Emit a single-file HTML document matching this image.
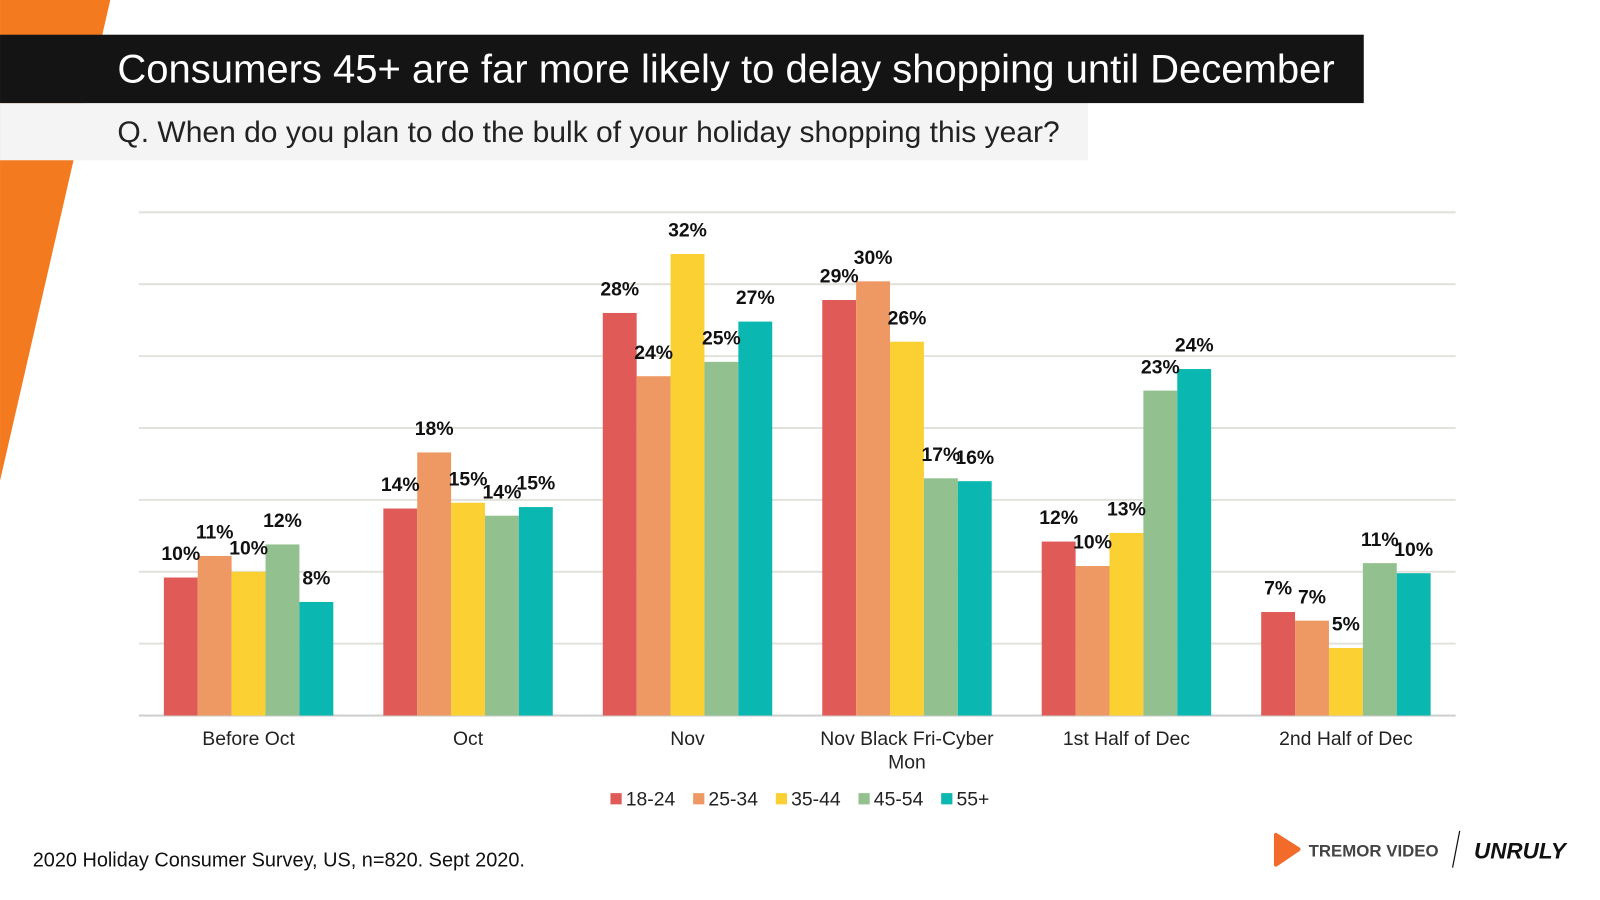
<!DOCTYPE html>
<html><head><meta charset="utf-8"><style>
body{margin:0;width:1600px;height:900px;background:#fff;overflow:hidden;font-family:"Liberation Sans",Arial,sans-serif;position:relative}
.abs{position:absolute}
</style></head><body>
<svg class="abs" style="left:0;top:0" width="1600" height="900" viewBox="0 0 1567.4 881.7">
<polygon points="0,0 108,0 0,471" fill="#F47A20"/>
<rect x="0" y="101" width="1066" height="56" fill="#F4F4F4"/>
<rect x="0" y="34" width="1336" height="67" fill="#141414"/>
<text x="115" y="81" fill="#fff" font-size="39.2">Consumers 45+ are far more likely to delay shopping until December</text>
<text x="115" y="139" fill="#222" font-size="29.4">Q. When do you plan to do the bulk of your holiday shopping this year?</text>
<g id="grid"></g><g id="bars"></g><g id="labels"></g>
<g id="legend"></g>
<text x="32" y="849" font-size="19.5" fill="#111">2020 Holiday Consumer Survey, US, n=820. Sept 2020.</text>
<g>
<polygon points="1250,818 1272,832 1250,847" fill="#F26B2A" stroke="#F26B2A" stroke-width="4" stroke-linejoin="round"/>
<text x="1282" y="839" font-size="16.5" font-weight="bold" fill="#444">TREMOR VIDEO</text>
</g>
<line x1="1430" y1="814" x2="1423" y2="850" stroke="#111" stroke-width="1.2"/>
<text x="1444" y="841" font-size="22" font-weight="bold" font-style="italic" fill="#111">UNRULY</text>
</svg>
<script>
const categories=["Before Oct","Oct","Nov","Nov Black Fri-Cyber|Mon","1st Half of Dec","2nd Half of Dec"];
const seriesNames=["18-24","25-34","35-44","45-54","55+"];
const s1824=[9.6,14.4,28,28.9,12.1,7.2];
const s2534=[11.1,18.3,23.6,30.2,10.4,6.6];
const s3544=[10,14.8,32.1,26,12.7,4.7];
const s4554=[11.9,13.9,24.6,16.5,22.6,10.6];
const s55=[7.9,14.5,27.4,16.3,24.1,9.9];
const gridTicks=[0,5,10,15,20,25,30,35];
const colors=["#E05B57","#EE9963","#FBD033","#92C08F","#0BB8B1"];
const NS="http://www.w3.org/2000/svg";
const x0=136,x1=1426,yBase=701,yTop=208,maxV=35;
const y=v=>yBase-(yBase-yTop)*v/maxV;
const bw=(x1-x0)/categories.length, barW=33.2;
function mk(tag,attrs,parent){const e=document.createElementNS(NS,tag);for(const k in attrs)e.setAttribute(k,attrs[k]);document.getElementById(parent).appendChild(e);return e;}
gridTicks.forEach(t=>{const l=mk('line',{x1:x0,x2:x1,y1:y(t),y2:y(t),stroke:t===0?'#d0d0d0':'#e2e2dc','stroke-width':2},'grid');

});
const series=[s1824,s2534,s3544,s4554,s55];
categories.forEach((c,i)=>{
 const cx=x0+bw*(i+0.5);
 const start=cx-barW*2.5;
 series.forEach((s,j)=>{
  const v=s[i];const bx=start+j*barW;
  const r=mk('rect',{x:bx,y:y(v),width:barW,height:yBase-y(v),fill:colors[j]},'bars');
  
  
  const t=mk('text',{x:bx+barW/2,y:y(v)-17,'text-anchor':'middle','font-size':19,'font-weight':'bold',fill:'#111'},'labels');
  t.textContent=Math.round(v)+'%';
  
  
 });
 c.split('|').forEach((ln,k)=>{
  const t=mk('text',{x:cx,y:730+k*23,'text-anchor':'middle','font-size':19,fill:'#222'},'labels');
  t.textContent=ln;
  
  
 });
});
let lx=598;
seriesNames.forEach((n,j)=>{
 const r=mk('rect',{x:lx,y:777,width:11,height:11,fill:colors[j]},'legend');
 
 
 const t=mk('text',{x:lx+15,y:789,'font-size':19,fill:'#222'},'legend');
 t.textContent=n;
 
 
 lx+=81;
});
</script>
</body></html>
